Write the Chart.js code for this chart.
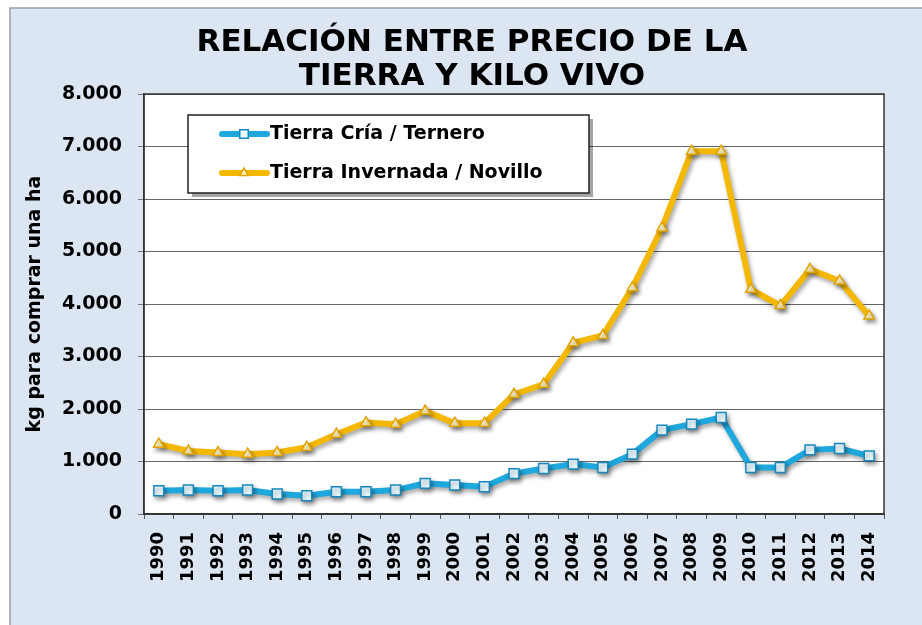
<!DOCTYPE html>
<html>
<head>
<meta charset="utf-8">
<script src="https://cdn.jsdelivr.net/npm/chart.js@4/dist/chart.umd.min.js"></script>
<style>
    html, body { margin: 0; padding: 0; background: #fff; }
    canvas { display: block; }
</style>
</head>
<body>
<canvas id="landChart" width="922" height="625"></canvas>
<script>
// Series: kg of live weight needed to buy one hectare
const years = ['1990', '1991', '1992', '1993', '1994', '1995', '1996', '1997', '1998', '1999',
    '2000', '2001', '2002', '2003', '2004', '2005', '2006', '2007', '2008', '2009',
    '2010', '2011', '2012', '2013', '2014'];
const criaTernero = [443, 456, 443, 456, 380, 348, 424, 424, 456, 583,
    551, 519, 770, 868, 950, 887, 1140, 1597, 1711, 1838,
    887, 887, 1222, 1248, 1108];
const invernadaNovillo = [1330, 1200, 1170, 1140, 1170, 1270, 1520, 1740, 1710, 1960,
    1730, 1730, 2280, 2470, 3260, 3400, 4310, 5450, 6910, 6910,
    4280, 3970, 4660, 4440, 3770];
const seriesNames = ['Tierra Cría / Ternero', 'Tierra Invernada / Novillo'];
const titleLines = ['RELACIÓN ENTRE PRECIO DE LA', 'TIERRA Y KILO VIVO'];
const yAxisTitle = 'kg para comprar una ha';

const BLUE = '#1fa8dd';
const YELLOW = '#f5b800';

// thousands with a dot: 8000 -> 8.000
function fmt(v) {
    return String(v).replace(/\B(?=(\d{3})+(?!\d))/g, '.');
}

// page background, plot background and frame
const backdrop = {
    id: 'backdrop',
    beforeDraw(chart) {
        const ctx = chart.ctx;
        const a = chart.chartArea;
        ctx.save();
        ctx.fillStyle = '#ffffff';
        ctx.fillRect(0, 0, chart.width, chart.height);
        ctx.fillStyle = '#dce6f2';
        ctx.fillRect(10, 8, chart.width - 10, chart.height - 8);
        ctx.strokeStyle = '#9aa0a6';
        ctx.lineWidth = 1.5;
        ctx.beginPath();
        ctx.moveTo(10, chart.height);
        ctx.lineTo(10, 8);
        ctx.lineTo(chart.width, 8);
        ctx.stroke();
        ctx.fillStyle = '#ffffff';
        ctx.fillRect(a.left, a.top, a.right - a.left, a.bottom - a.top);
        ctx.restore();
    },
    afterDraw(chart) {
        const ctx = chart.ctx;
        const a = chart.chartArea;
        ctx.save();
        ctx.strokeStyle = '#333';
        ctx.lineWidth = 1.5;
        ctx.strokeRect(a.left, a.top, a.right - a.left, a.bottom - a.top);
        ctx.restore();
    }
};

// soft shadow under the lines
const lineShadow = {
    id: 'lineShadow',
    beforeDatasetsDraw(chart) {
        const ctx = chart.ctx;
        ctx.save();
        ctx.shadowColor = 'rgba(0,0,0,0.35)';
        ctx.shadowBlur = 4;
        ctx.shadowOffsetX = 2;
        ctx.shadowOffsetY = 3;
    },
    afterDatasetsDraw(chart) {
        chart.ctx.restore();
    }
};

// two line title
const titleText = {
    id: 'titleText',
    afterDraw(chart) {
        const ctx = chart.ctx;
        ctx.save();
        ctx.fillStyle = '#000';
        ctx.font = 'bold 31px "DejaVu Sans", sans-serif';
        ctx.textAlign = 'center';
        ctx.textBaseline = 'middle';
        titleLines.forEach((line, i) => ctx.fillText(line, 472, 43 + i * 34));
        ctx.restore();
    }
};

// boxed legend inside the plot
const boxLegend = {
    id: 'boxLegend',
    afterDraw(chart) {
        const ctx = chart.ctx;
        const x = 188, y = 115, w = 401, h = 78;
        ctx.save();
        ctx.fillStyle = 'rgba(0,0,0,0.35)';
        ctx.fillRect(x + 4, y + 4, w, h);
        ctx.fillStyle = '#fff';
        ctx.fillRect(x, y, w, h);
        ctx.strokeStyle = '#222';
        ctx.lineWidth = 1.5;
        ctx.strokeRect(x, y, w, h);

        chart.data.datasets.forEach((ds, i) => {
            const ly = 134 + i * 39;
            ctx.strokeStyle = ds.borderColor;
            ctx.lineWidth = 6;
            ctx.lineCap = 'round';
            ctx.beginPath();
            ctx.moveTo(222, ly);
            ctx.lineTo(267, ly);
            ctx.stroke();
            ctx.fillStyle = ds.pointBackgroundColor;
            ctx.strokeStyle = ds.pointBorderColor;
            ctx.lineWidth = ds.pointBorderWidth;
            Chart.helpers.drawPoint(ctx, {
                pointStyle: ds.pointStyle,
                radius: ds.pointRadius - 1,
                borderWidth: ds.pointBorderWidth
            }, 244, ly);

            ctx.fillStyle = '#000';
            ctx.font = 'bold 19px "DejaVu Sans", sans-serif';
            ctx.textAlign = 'left';
            ctx.textBaseline = 'middle';
            ctx.fillText(ds.label, 270, ly);
        });
        ctx.restore();
    }
};

const ctx = document.getElementById('landChart').getContext('2d');

const landChart = new Chart(ctx, {
    type: 'line',
    data: {
        labels: years,
        datasets: [{
            label: seriesNames[0],
            data: criaTernero,
            borderColor: BLUE,
            borderWidth: 6,
            pointStyle: 'rect',
            pointRadius: 7,
            pointBackgroundColor: '#eafaff',
            pointBorderColor: '#1688bd',
            pointBorderWidth: 1.5,
            tension: 0
        }, {
            label: seriesNames[1],
            data: invernadaNovillo,
            borderColor: YELLOW,
            borderWidth: 6,
            pointStyle: 'triangle',
            pointRadius: 6,
            pointBackgroundColor: '#fff5c4',
            pointBorderColor: '#e0a300',
            pointBorderWidth: 1.5,
            tension: 0
        }]
    },
    options: {
        responsive: false,
        animation: false,
        devicePixelRatio: 1,
        layout: {
            padding: { left: 8, top: 94, right: 38, bottom: 0 }
        },
        plugins: {
            legend: { display: false },
            title: { display: false },
            tooltip: { enabled: false }
        },
        scales: {
            x: {
                offset: true,
                grid: {
                    offset: true,
                    drawOnChartArea: false,
                    tickLength: 5,
                    tickColor: '#555'
                },
                border: { color: '#333', width: 1.5 },
                ticks: {
                    minRotation: 90,
                    maxRotation: 90,
                    autoSkip: false,
                    padding: 13,
                    color: '#000',
                    font: { family: '"DejaVu Sans", sans-serif', size: 18, weight: 'bold' }
                },
                afterFit(scale) {
                    scale.height = 111;
                }
            },
            y: {
                min: 0,
                max: 8000,
                grid: {
                    color: '#666',
                    borderDash: [3, 3],
                    tickLength: 6,
                    tickColor: '#777',
                    tickBorderDash: []
                },
                border: { color: '#333', width: 1.5 },
                ticks: {
                    stepSize: 1000,
                    padding: 16,
                    color: '#000',
                    font: { family: '"DejaVu Sans", sans-serif', size: 19, weight: 'bold' },
                    callback: value => fmt(value)
                },
                title: {
                    display: true,
                    text: yAxisTitle,
                    color: '#000',
                    padding: { top: 16, bottom: 0 },
                    font: { family: '"DejaVu Sans", sans-serif', size: 19, weight: 'bold' }
                },
                afterFit(scale) {
                    scale.width = 136;
                }
            }
        }
    },
    plugins: [backdrop, lineShadow, titleText, boxLegend]
});
</script>
</body>
</html>
